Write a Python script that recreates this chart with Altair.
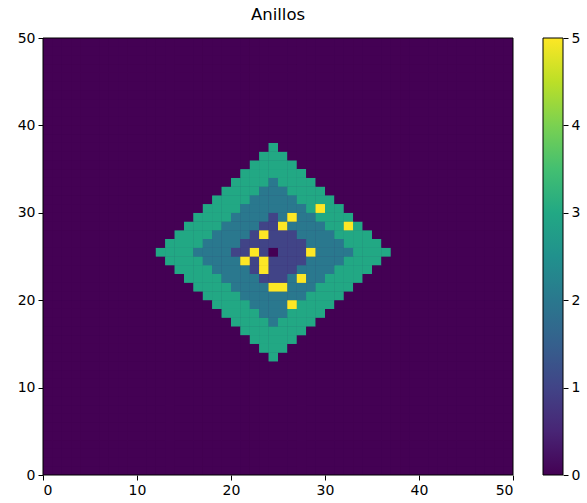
import altair as alt
import pandas as pd

title_text = "Anillos"
n_cols = 50
n_rows = 50
axis_ticks = [0, 10, 20, 30, 40, 50]
cbar_ticks = [0, 1, 2, 3, 4, 5]
value_domain = [0, 5]
background_value = 0

# Ring block: columns 12..36, rows 37 (top) .. 13 (bottom)
block_col0 = 12
block_row_top = 37
ring_block = [
    "0000000000003000000000000",  # 37
    "0000000000033300000000000",  # 36
    "0000000000333330000000000",  # 35
    "0000000003333333000000000",  # 34
    "0000000033332333300000000",  # 33
    "0000000333322233330000000",  # 32
    "0000003333222223333000000",  # 31
    "0000033332222222353300000",  # 30
    "0000333322221252233330000",  # 29
    "0003333222211522223353000",  # 28
    "0033332222151112222333300",  # 27
    "0333322221111111222233330",  # 26
    "3333222211510111522223333",  # 25
    "0333322225151111222233330",  # 24
    "0033332222151112222333300",  # 23
    "0003333222211125223333000",  # 22
    "0000333322225522233330000",  # 21
    "0000033332222222333300000",  # 20
    "0000003333222253333000000",  # 19
    "0000000333322233330000000",  # 18
    "0000000033332333300000000",  # 17
    "0000000003333333000000000",  # 16
    "0000000000333330000000000",  # 15
    "0000000000033300000000000",  # 14
    "0000000000003000000000000",  # 13
]

rows = []
for r in range(n_rows):
    for c in range(n_cols):
        bi = block_row_top - r
        bj = c - block_col0
        v = 0
        if 0 <= bi < len(ring_block) and 0 <= bj < len(ring_block[bi]):
            v = int(ring_block[bi][bj])
        rows.append({"x": c, "x2": c + 1, "y": r, "y2": r + 1, "v": v})
df = pd.DataFrame(rows)

frame_df = pd.DataFrame({"x": [0], "x2": [n_cols], "y": [0], "y2": [n_rows],
                         "v": [background_value]})
cb_df = pd.DataFrame({"t": cbar_ticks})

FONT = "DejaVu Sans"
xscale = alt.Scale(domain=[0, n_cols], nice=False, zero=False)
yscale = alt.Scale(domain=[0, n_rows], nice=False, zero=False)
cscale = alt.Scale(type="linear", scheme="viridis", domain=value_domain)

axis_common = dict(domain=False, grid=False, tickColor="black", tickWidth=1, tickSize=5,
                   labelFont=FONT, labelFontSize=14, labelColor="black", labelPadding=3,
                   values=axis_ticks, format="d")

legend = alt.Legend(
    type="gradient", orient="none", legendX=500, legendY=0, direction="vertical",
    gradientLength=437, gradientThickness=20, title=None,
    labelExpr="''", labelFontSize=1, padding=0,
    gradientStrokeColor="black", gradientStrokeWidth=1)


def xy(ch):
    return ch.encode(
        x=alt.X("x:Q", scale=xscale, axis=alt.Axis(**axis_common), title=None),
        x2="x2:Q",
        y=alt.Y("y:Q", scale=yscale, axis=alt.Axis(**axis_common), title=None),
        y2="y2:Q",
    )


bg = xy(alt.Chart(frame_df).mark_rect()).encode(
    fill=alt.Fill("v:Q", scale=cscale, legend=legend))

# the cell layer is painted twice so that anti-aliased seams between cells disappear
heat_a = xy(alt.Chart(df).mark_rect()).encode(
    fill=alt.Fill("v:Q", scale=cscale, legend=legend))
heat_b = xy(alt.Chart(df).mark_rect()).encode(
    fill=alt.Fill("v:Q", scale=cscale, legend=legend))

frame = xy(alt.Chart(frame_df).mark_rect(fillOpacity=0, stroke="black", strokeWidth=1))

main = alt.layer(bg, heat_a, heat_b, frame)

cbar_axis = alt.Chart(cb_df).mark_point(opacity=0).encode(
    x=alt.value(500),
    y=alt.Y("t:Q", scale=alt.Scale(domain=value_domain, nice=False, zero=False),
            axis=alt.Axis(orient="right", offset=50, domain=False, grid=False,
                          tickColor="black", tickWidth=1, tickSize=5,
                          labelFont=FONT, labelFontSize=14, labelColor="black",
                          labelPadding=3, values=cbar_ticks, format="d"),
            title=None),
)

chart = alt.layer(main, cbar_axis).resolve_scale(y="independent").properties(
    width=470, height=437,
    title=alt.TitleParams(title_text, font=FONT, fontSize=16.5, fontWeight="normal",
                          color="black", anchor="middle", offset=8),
    autosize=alt.AutoSizeParams(type="none"),
    padding={"left": 43, "top": 38, "right": 74, "bottom": 28},
).configure_view(stroke=None)

chart.save("out.html", embed_options={"renderer": "svg", "actions": False})
